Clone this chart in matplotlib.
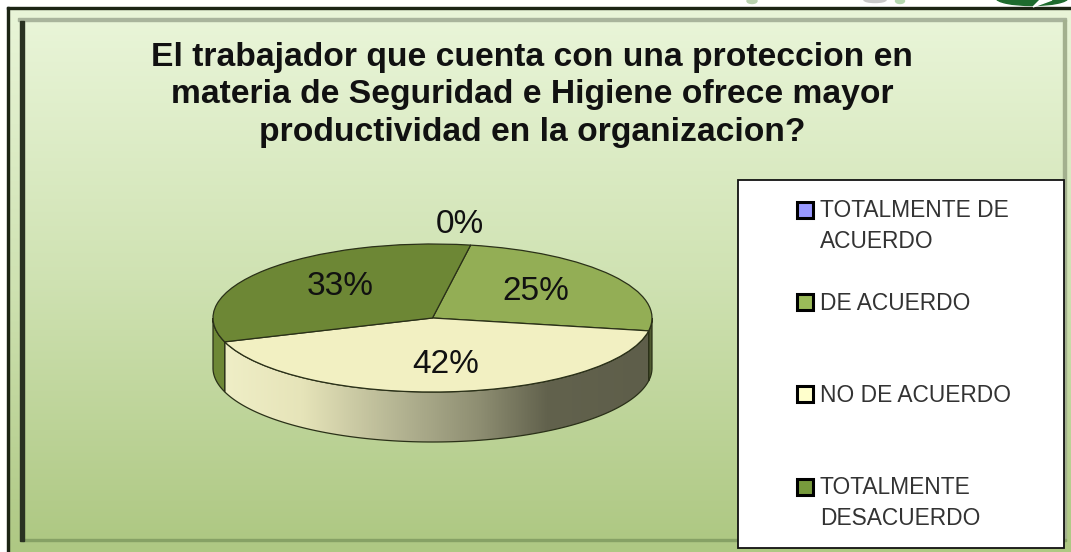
import matplotlib
matplotlib.use("Agg")
import matplotlib.pyplot as plt
import numpy as np
from matplotlib.colors import LinearSegmentedColormap
from matplotlib.patches import Ellipse, Polygon, Rectangle

W, H = 1071, 552

title = ("El trabajador que cuenta con una proteccion en\n"
         "materia de Seguridad e Higiene ofrece mayor\n"
         "productividad en la organizacion?")
categories = ["TOTALMENTE DE\nACUERDO", "DE ACUERDO", "NO DE ACUERDO", "TOTALMENTE\nDESACUERDO"]
values = [0, 25, 42, 33]
slice_colors = ["#9999ff", "#93ae55", "#f2f0c2", "#6d8735"]
legend_colors = ["#9999ff", "#9bbb59", "#ffffcc", "#779a3c"]
legend_y = [226, 303, 395, 503]

plt.rcParams["font.family"] = ["Liberation Sans", "DejaVu Sans"]


def vgradient(ax, x0, x1, y0, y1, stops, zorder):
    cmap = LinearSegmentedColormap.from_list("bg", stops)
    ax.imshow(np.linspace(0, 1, 256).reshape(-1, 1), cmap=cmap, aspect="auto",
              extent=(x0, x1, y1, y0), zorder=zorder, interpolation="bilinear")


fig = plt.figure(figsize=(W / 100, H / 100), dpi=100, facecolor="white")

# background frame, in pixel coordinates
bg = fig.add_axes([0, 0, 1, 1])
outer_stops = ["#e9f5d8", "#cfe2b2", "#aec883"]
vgradient(bg, 8, W, 9, H, outer_stops, 1)
vgradient(bg, 22, 1064, 20, 541, outer_stops, 2)
bg.add_patch(Rectangle((6.5, 7), W, 2, color="#1c2414", zorder=3))
bg.add_patch(Rectangle((6.5, 7), 2, H, color="#1c2414", zorder=3))
bg.add_patch(Rectangle((18, 18), 1048, 3, color="#a9b49c", zorder=3))
bg.add_patch(Rectangle((20, 21), 4, 520, color="#2a3222", zorder=4))
bg.add_patch(Rectangle((1063, 20), 3, 521, color="#a3b08e", zorder=3))
bg.add_patch(Rectangle((22, 539), 1044, 2, color="#86a165", zorder=3))

# bits of the logos cut off by the top of the picture
bg.add_patch(Ellipse((752, 1), 10, 5, color="#b9d2b0", zorder=3))
bg.add_patch(Ellipse((875, 0), 22, 5, color="#c9c9c9", zorder=3))
bg.add_patch(Ellipse((900, 1), 9, 5, color="#b5d8b0", zorder=3))
bg.add_patch(Ellipse((1032, -2), 72, 15, color="#1e6b2e", zorder=3))
bg.add_patch(Polygon([(1033, 7), (1040, 0), (1052, 0)], color="white", zorder=4))
bg.set_xlim(0, W)
bg.set_ylim(H, 0)
bg.axis("off")

bg.text(532, 95, title, ha="center", va="center", fontsize=24.2, fontweight="bold",
        color="#111111", linespacing=1.28, zorder=5)

# legend box
bg.add_patch(Rectangle((738, 180), 326, 368, facecolor="white", edgecolor="#111111",
                       linewidth=1.3, zorder=5))
for label, color, y in zip(categories, legend_colors, legend_y):
    n = label.count("\n")
    top = y - 1 - 15 * n
    bg.add_patch(Rectangle((797, top - 8), 16, 16, facecolor=color, edgecolor="black",
                           linewidth=2.2, zorder=6))
    bg.text(820, y, label, ha="left", va="center", fontsize=16.4, color="#333333",
            linespacing=1.4, zorder=6)

# pie: top ellipse plus the rim below it
cx, cy, rx, ry, depth = 432.5, 318, 219.5, 74, 50
pad = 0.05
bottom = -1 - depth / ry - pad
ax_w = rx * (2 + 2 * pad)
ax_h = ry * (1 + pad - bottom)
pie_ax = fig.add_axes([(cx - rx * (1 + pad)) / W, 1 - (cy - bottom * ry) / H, ax_w / W, ax_h / H])
pie_ax.patch.set_alpha(0)

start = 80
wedges, _, autotexts = pie_ax.pie(
    values, colors=slice_colors, startangle=start, counterclock=False, autopct="%.0f%%",
    pctdistance=0.6, wedgeprops={"edgecolor": "#2a3018", "linewidth": 0.9},
    textprops={"fontsize": 24, "color": "#111111"})
for w in wedges:
    w.set_zorder(5)
for t in autotexts:
    t.set_zorder(6)
pie_ax.set_aspect("auto")
pie_ax.set_xlim(-1 - pad, 1 + pad)
pie_ax.set_ylim(bottom, 1 + pad)
pie_ax.axis("off")

autotexts[0].set_position((0.125, 1.26))
autotexts[1].set_position((0.47, 0.355))
autotexts[2].set_position((0.06, -0.63))
autotexts[3].set_position((-0.42, 0.42))

rim_stops = [(0, "#efeec6"), (0.18, "#e6e4b9"), (0.4, "#b6b694"), (0.6, "#8e8e72"),
             (0.76, "#62624d"), (1, "#5e5e4a")]
rim_cmap = LinearSegmentedColormap.from_list("rim", rim_stops)
d = depth / ry
edges = np.cumsum([0] + values) / sum(values) * 360 + (90 - start)
for i, v in enumerate(values):
    a0, a1 = max(edges[i], 90), min(edges[i + 1], 270)
    if v == 0 or a1 <= a0:
        continue
    t = np.radians(np.linspace(a0, a1, 120))
    xs, ys = np.sin(t), np.cos(t)
    pts = np.r_[np.c_[xs, ys], np.c_[xs[::-1], ys[::-1] - d]]
    if i == 2:
        poly = Polygon(pts, closed=True, facecolor="none", edgecolor="#2a3018", linewidth=0.9, zorder=4)
        pie_ax.add_patch(poly)
        im = pie_ax.imshow(np.linspace(0, 1, 256).reshape(1, -1), cmap=rim_cmap, aspect="auto",
                           extent=(xs.min(), xs.max(), -1 - d, 0), zorder=3)
        im.set_clip_path(poly)
    else:
        rim_color = "#4f5a30" if i == 1 else slice_colors[i]
        pie_ax.add_patch(Polygon(pts, closed=True, facecolor=rim_color, edgecolor="#2a3018",
                                 linewidth=0.9, zorder=4))
pie_ax.set_xlim(-1 - pad, 1 + pad)
pie_ax.set_ylim(bottom, 1 + pad)

fig.savefig("out.png", dpi=100)
